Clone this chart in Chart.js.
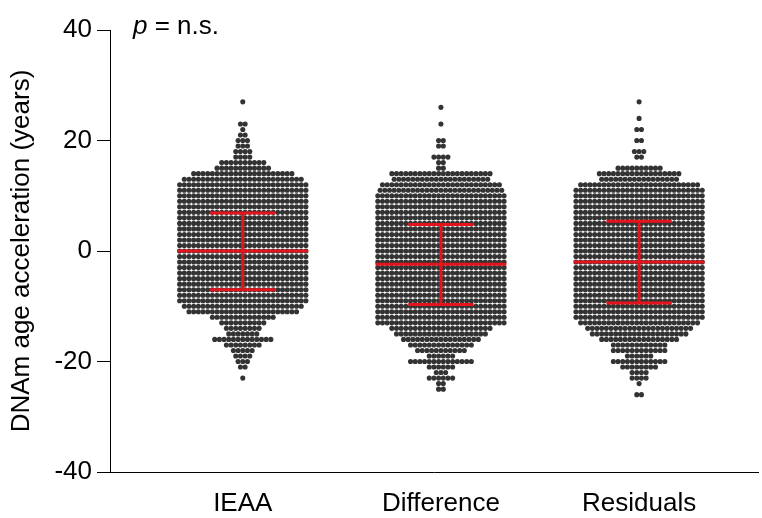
<!DOCTYPE html>
<html>
<head>
<meta charset="utf-8">
<script src="https://cdn.jsdelivr.net/npm/chart.js@4/dist/chart.umd.min.js"></script>
<style>
  html, body { margin: 0; padding: 0; background: #fff; }
  canvas { display: block; }
</style>
</head>
<body>
<canvas id="grafico" width="762" height="518"></canvas>
<script>
// categorias e valores
var categories = ['IEAA', 'Difference', 'Residuals'];

// niveis (anos) de cada linha do enxame, de cima para baixo
var levels = [27, 26, 25, 24, 23, 22, 21, 20, 19, 18,
              17, 16, 15, 14, 13, 12, 11, 10, 9, 8,
              7, 6, 5, 4, 3, 2, 1, 0, -1, -2,
              -3, -4, -5, -6, -7, -8, -9, -10, -11, -12,
              -13, -14, -15, -16, -17, -18, -19, -20, -21, -22,
              -23, -24, -25, -26];

// quantos pontos em cada nivel
var countsIEAA = [1, 0, 0, 0, 2, 1, 2, 3, 3, 4,
                  4, 10, 12, 22, 26, 28, 28, 28, 28, 28,
                  28, 28, 28, 28, 28, 28, 28, 28, 28, 28,
                  28, 28, 28, 28, 28, 28, 28, 26, 24, 14,
                  10, 8, 7, 13, 8, 5, 4, 3, 2, 0,
                  1, 0, 0, 0];
var countsDifference = [0, 1, 0, 0, 1, 0, 0, 2, 2, 0,
                        4, 2, 2, 22, 21, 26, 27, 28, 28, 28,
                        28, 28, 28, 28, 28, 28, 28, 28, 28, 28,
                        28, 28, 28, 28, 28, 28, 28, 28, 28, 28,
                        28, 22, 20, 17, 14, 11, 6, 14, 6, 3,
                        6, 2, 2, 0];
var countsResiduals = [1, 0, 0, 1, 0, 2, 0, 2, 0, 3,
                       2, 0, 10, 18, 17, 26, 28, 28, 28, 28,
                       28, 28, 28, 28, 28, 28, 28, 28, 28, 28,
                       28, 28, 28, 28, 28, 28, 28, 28, 28, 28,
                       26, 23, 21, 17, 12, 12, 6, 12, 8, 4,
                       4, 1, 0, 2];

// media +/- desvio padrao
var means = [0, -2.4, -2.0];
var upper = [6.9, 4.8, 5.4];
var lower = [-7.0, -9.7, -9.4];

var yTicks = [-40, -20, 0, 20, 40];

var FONT = '"Liberation Sans", Arial, sans-serif';
var STEP = 0.0236;      // distancia entre pontos vizinhos (unidades do eixo x)
var MEAN_HALF = 0.33;
var CAP_HALF = 0.165;

/* Monta o enxame: cada nivel vira uma linha centrada na categoria. */
function swarm(counts, center) {
	var pts = [];
	for (var i = 0; i < levels.length; i++) {
		var n = counts[i];
		for (var k = 0; k < n; k++) {
			pts.push({ x: center + (k - (n - 1) / 2) * STEP, y: levels[i] });
		}
	}
	return pts;
}

/* Barra de erro: linha da media, haste e as duas tampas. */
function errorBar(g) {
	var c = g + 1;
	return [
		{ x: c - MEAN_HALF, y: means[g] }, { x: c + MEAN_HALF, y: means[g] }, { x: c, y: null },
		{ x: c, y: upper[g] }, { x: c, y: lower[g] }, { x: c, y: null },
		{ x: c - CAP_HALF, y: upper[g] }, { x: c + CAP_HALF, y: upper[g] }, { x: c, y: null },
		{ x: c - CAP_HALF, y: lower[g] }, { x: c + CAP_HALF, y: lower[g] }
	];
}

var allCounts = [countsIEAA, countsDifference, countsResiduals];
var datasets = [];

categories.forEach(function(name, g) {
	datasets.push({
		label: name + ' mean/SD',
		data: errorBar(g),
		showLine: true,
		spanGaps: false,
		borderColor: '#e3141c',
		borderWidth: 3,
		pointRadius: 0,
		order: 0
	});
});

categories.forEach(function(name, g) {
	datasets.push({
		label: name,
		data: swarm(allCounts[g], g + 1),
		backgroundColor: '#333333',
		borderWidth: 0,
		pointRadius: 2.55,
		order: 1
	});
});

var pValue = {
	id: 'pValue',
	afterDraw: function(chart) {
		var ctx = chart.ctx;
		ctx.save();
		ctx.fillStyle = '#000';
		ctx.textBaseline = 'alphabetic';
		ctx.font = 'italic 26px ' + FONT;
		ctx.fillText('p', 133, 34);
		var w = ctx.measureText('p').width;
		ctx.font = '26px ' + FONT;
		ctx.fillText(' = n.s.', 133 + w, 34);
		ctx.restore();
	}
};

var grafico = new Chart(document.getElementById('grafico').getContext('2d'), {
	type: 'scatter',
	data: { datasets: datasets },
	plugins: [pValue],
	options: {
		responsive: false,
		animation: false,
		layout: { padding: { top: 30, right: 0, bottom: 0, left: 0 } },
		plugins: { legend: { display: false }, tooltip: { enabled: false } },
		scales: {
			x: {
				type: 'linear',
				min: 0.33,
				max: 3.6,
				afterBuildTicks: function(scale) {
					scale.ticks = categories.map(function(c, i) { return { value: i + 1 }; });
				},
				afterFit: function(scale) { scale.height = 46; },
				grid: { display: false, drawTicks: false },
				border: { display: true, color: '#000', width: 1 },
				ticks: {
					padding: 16,
					color: '#000',
					font: { family: FONT, size: 26 },
					maxRotation: 0,
					callback: function(v) { return categories[v - 1]; }
				}
			},
			y: {
				min: -40,
				max: 40,
				afterBuildTicks: function(scale) {
					scale.ticks = yTicks.map(function(v) { return { value: v }; });
				},
				afterFit: function(scale) { scale.width = 110; },
				grid: { drawOnChartArea: false, drawTicks: true, tickLength: 13, color: '#000' },
				border: { display: true, color: '#000', width: 1 },
				title: {
					display: true,
					text: 'DNAm age acceleration (years)',
					color: '#000',
					font: { family: FONT, size: 26 },
					padding: { top: 6, bottom: 0 }
				},
				ticks: {
					padding: 5,
					color: '#000',
					font: { family: FONT, size: 26 }
				}
			}
		}
	}
});
</script>
</body>
</html>
